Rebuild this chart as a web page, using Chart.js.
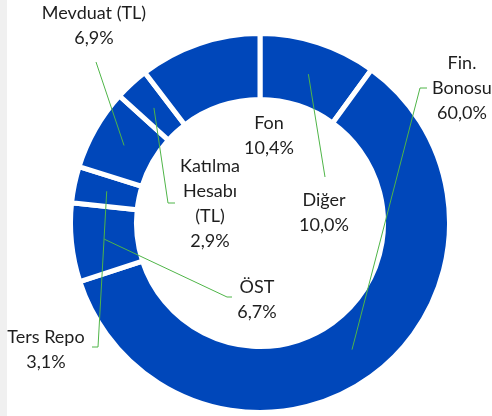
<!DOCTYPE html>
<html>
<head>
<meta charset="utf-8">
<script src="https://cdn.jsdelivr.net/npm/chart.js@4/dist/chart.umd.min.js"></script>
<style>
  html, body { margin: 0; padding: 0; background: #fff; }
  #wrap { width: 492px; height: 416px; position: relative;
          background: linear-gradient(to right, #f0f0f0 7px, #ffffff 7px); }
  canvas { position: absolute; left: 0; top: 0; }
</style>
</head>
<body>
<div id="wrap"><canvas id="c" width="492" height="416"></canvas></div>
<script>
// ---- data ----
const categories = ['Diğer', 'Fin. Bonosu', 'ÖST', 'Ters Repo', 'Mevduat (TL)', 'Katılma Hesabı (TL)', 'Fon'];
const shares = [10.0, 60.0, 6.7, 3.1, 6.9, 2.9, 10.4];
const labelLines = [
  ['Diğer'],
  ['Fin.', 'Bonosu'],
  ['ÖST'],
  ['Ters Repo'],
  ['Mevduat (TL)'],
  ['Katılma', 'Hesabı', '(TL)'],
  ['Fon']
];

function fmt(v) { return v.toFixed(1).replace('.', ',') + '%'; }

// label layout (offsets from the doughnut centre, px)
const layoutCfg = [
  { text: [64, -10],   end: [65, -46] },
  { text: [202, -135], end: [160, -135], tail: [167, -135] },
  { text: [-3, 77],    end: [-33, 74],  tail: [-28, 74] },
  { text: [-214, 127], end: [-162, 124], tail: [-168, 124] },
  { text: [-166, -197], end: [-164, -161] },
  { text: [-50, -19],  end: [-92, -20], tail: [-85, -20] },
  { text: [9, -87] }
];

const labelPlugin = {
  id: 'calloutLabels',
  afterDatasetsDraw(chart) {
    const ctx = chart.ctx;
    const meta = chart.getDatasetMeta(0);
    const lh = 25;
    ctx.save();
    meta.data.forEach((arc, i) => {
      const cfg = layoutCfg[i];
      const cx = arc.x, cy = arc.y;
      if (cfg.end) {
        const p = arc.tooltipPosition();
        ctx.beginPath();
        ctx.strokeStyle = '#4fb548';
        ctx.lineWidth = 1;
        ctx.moveTo(p.x, p.y);
        ctx.lineTo(cx + cfg.end[0], cy + cfg.end[1]);
        if (cfg.tail) ctx.lineTo(cx + cfg.tail[0], cy + cfg.tail[1]);
        ctx.stroke();
      }
      const lines = labelLines[i].concat([fmt(shares[i])]);
      ctx.fillStyle = '#1e1e1e';
      ctx.font = '18px Lato';
      ctx.textAlign = 'center';
      ctx.textBaseline = 'middle';
      const tx = cx + cfg.text[0];
      const ty0 = cy + cfg.text[1] - (lines.length - 1) * lh / 2;
      lines.forEach((t, k) => ctx.fillText(t, tx, ty0 + k * lh));
    });
    ctx.restore();
  }
};

new Chart(document.getElementById('c'), {
  type: 'doughnut',
  data: {
    labels: categories,
    datasets: [{
      data: shares,
      backgroundColor: '#0047BA',
      borderColor: '#ffffff',
      borderWidth: 5,
      hoverBorderWidth: 5,
      borderJoinStyle: 'miter'
    }]
  },
  options: {
    responsive: false,
    animation: false,
    cutout: '65.2%',
    rotation: 0,
    layout: { padding: { left: 68, right: 40, top: 31, bottom: 1 } },
    plugins: { legend: { display: false }, tooltip: { enabled: false } },
    events: []
  },
  plugins: [labelPlugin]
});
</script>
</body>
</html>
